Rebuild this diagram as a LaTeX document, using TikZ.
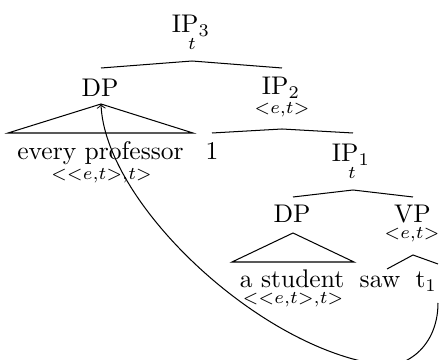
\documentclass[tikz,border=0pt]{standalone}
\begin{document}
\begin{tikzpicture}[x=0.392pt,y=-0.392pt,
  lbl/.style={inner sep=0pt,anchor=base},
  typ/.style={inner sep=0pt,anchor=base,font=\scriptsize},
  br/.style={line width=0.4pt}]
\clip (0,0) rectangle (445,360);
% labels
\node[lbl] (ip3) at (191,33) {IP$_3$};
\node[typ] (ip3t) at (192,50) {$t$};
\node[lbl] (dp1) at (100,97) {DP};
\node[lbl] (ep) at (100.5,160) {every professor};
\node[typ] (ept) at (101.5,180) {${<}{<}e{,}t{>}{,}t{>}$};
\node[lbl] (one) at (212,160) {1};
\node[lbl] (ip2) at (281,95) {IP$_2$};
\node[typ] (ip2t) at (282,114) {${<}e{,}t{>}$};
\node[lbl] (ip1) at (351,162) {IP$_1$};
\node[typ] (ip1t) at (352,179) {$t$};
\node[lbl] (dp2) at (292,223) {DP};
\node[lbl] (vp) at (412.5,223) {VP};
\node[typ] (vpt) at (412,239) {${<}e{,}t{>}$};
\node[lbl] (as) at (292,288) {a student};
\node[typ] (ast) at (293,304) {${<}{<}e{,}t{>}{,}t{>}$};
\node[lbl] (saw) at (380,288) {saw};
\node[lbl,anchor=base west] (t1) at (415,288) {t$_1$};
% branch points
\coordinate (a3) at (192,61);
\coordinate (a3l) at (101,68);
\coordinate (a3r) at (282,68);
\coordinate (dp1a) at (101,104);
\coordinate (dp1l) at (8,133);
\coordinate (dp1r) at (193,133);
\coordinate (a2) at (282,129);
\coordinate (a2l) at (212,133);
\coordinate (a2r) at (353,133);
\coordinate (a1) at (353,190);
\coordinate (a1l) at (293,197);
\coordinate (a1r) at (413,197);
\coordinate (dp2a) at (293,233);
\coordinate (dp2l) at (232,262);
\coordinate (dp2r) at (354,262);
\coordinate (av) at (413,255);
\coordinate (avl) at (387,269);
\coordinate (avr) at (438,264);
\coordinate (tr) at (438,303);
\coordinate (low) at (370,363);
% branches
\draw[br] (a3l) -- (a3) -- (a3r);
\draw[br] (dp1l) -- (dp1a) -- (dp1r) -- cycle;
\draw[br] (a2l) -- (a2) -- (a2r);
\draw[br] (a1l) -- (a1) -- (a1r);
\draw[br] (dp2l) -- (dp2a) -- (dp2r) -- cycle;
\draw[br] (avl) -- (av) -- (avr);
% movement arrow
\draw[br,->] (tr) .. controls (438,350) and (400,374) .. (low)
  .. controls (250,340) and (105,200) .. (dp1a);
\end{tikzpicture}
\end{document}
